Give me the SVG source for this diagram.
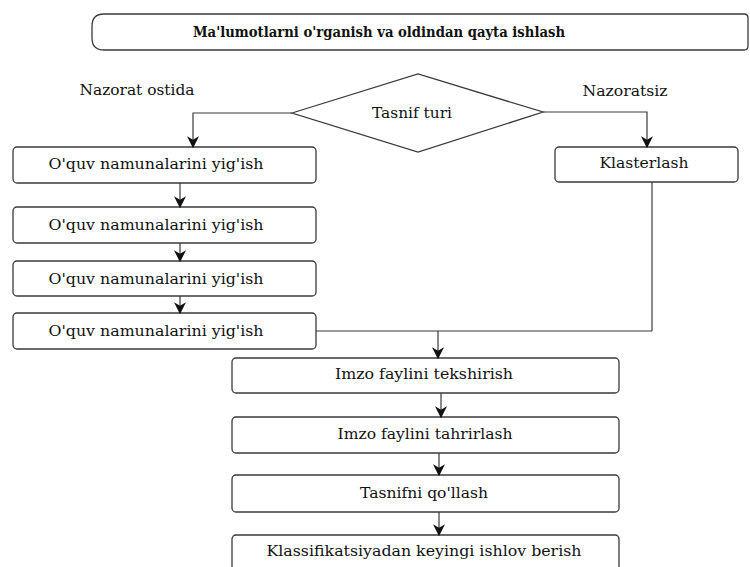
<svg xmlns="http://www.w3.org/2000/svg" width="750" height="567" viewBox="0 0 750 567">
<style>
.box{fill:#fff;stroke:#3a3a3a;stroke-width:1.3}
.ln{fill:none;stroke:#3a3a3a;stroke-width:1.2}
.t{font-family:'DejaVu Serif','Liberation Serif',serif;font-size:15px;fill:#111;text-anchor:middle}
.tb{font-weight:bold}
</style>
<defs>
<marker id="ah" viewBox="0 0 10 10" refX="9" refY="5" markerWidth="12" markerHeight="12" markerUnits="userSpaceOnUse" orient="auto">
<path d="M0,0 L10,5 L0,10 L3,5 z" fill="#111"/>
</marker>
</defs>
<rect width="750" height="567" fill="#fff"/>
<g id="title">
<path class="box" d="M104,14 H744 Q748,14 748,18 V46 Q748,50 744,50 H104 Q92,50 92,38 V26 Q92,14 104,14 Z"/>
<text class="t tb" x="379" y="37" textLength="372" lengthAdjust="spacingAndGlyphs">Ma'lumotlarni o'rganish va oldindan qayta ishlash</text>
</g>
<g id="decision">
<polygon class="box" points="292,113 418,74 543,112 418,152"/>
<text class="t" x="412" y="118" textLength="80" lengthAdjust="spacingAndGlyphs">Tasnif turi</text>
</g>
<g id="lbl-left"><text class="t" x="137" y="95" textLength="115" lengthAdjust="spacingAndGlyphs">Nazorat ostida</text></g>
<g id="lbl-right"><text class="t" x="625" y="96" textLength="85" lengthAdjust="spacingAndGlyphs">Nazoratsiz</text></g>
<g id="s1"><rect class="box" x="13" y="147" width="303" height="36" rx="4"/><text class="t" x="156" y="169" textLength="215" lengthAdjust="spacingAndGlyphs">O'quv namunalarini yig'ish</text></g>
<g id="s2"><rect class="box" x="13" y="207" width="303" height="36" rx="4"/><text class="t" x="156" y="230" textLength="215" lengthAdjust="spacingAndGlyphs">O'quv namunalarini yig'ish</text></g>
<g id="s3"><rect class="box" x="13" y="261" width="303" height="35" rx="4"/><text class="t" x="156" y="284" textLength="215" lengthAdjust="spacingAndGlyphs">O'quv namunalarini yig'ish</text></g>
<g id="s4"><rect class="box" x="13" y="313" width="303" height="36" rx="4"/><text class="t" x="156" y="336" textLength="215" lengthAdjust="spacingAndGlyphs">O'quv namunalarini yig'ish</text></g>
<g id="klaster"><rect class="box" x="555" y="147" width="183" height="35" rx="4"/><text class="t" x="644" y="168" textLength="89" lengthAdjust="spacingAndGlyphs">Klasterlash</text></g>
<g id="p1"><rect class="box" x="232" y="358" width="387" height="35" rx="4"/><text class="t" x="424" y="379" textLength="178" lengthAdjust="spacingAndGlyphs">Imzo faylini tekshirish</text></g>
<g id="p2"><rect class="box" x="232" y="417" width="387" height="36" rx="4"/><text class="t" x="425" y="439" textLength="175" lengthAdjust="spacingAndGlyphs">Imzo faylini tahrirlash</text></g>
<g id="p3"><rect class="box" x="232" y="475" width="387" height="37" rx="4"/><text class="t" x="424" y="498" textLength="128" lengthAdjust="spacingAndGlyphs">Tasnifni qo'llash</text></g>
<g id="p4"><rect class="box" x="232" y="535" width="387" height="40" rx="4"/><text class="t" x="424" y="556" textLength="315" lengthAdjust="spacingAndGlyphs">Klassifikatsiyadan keyingi ishlov berish</text></g>
<g id="connectors">
<path class="ln" d="M292,113 H193 V147" marker-end="url(#ah)"/>
<path class="ln" d="M543,112 H647 V147" marker-end="url(#ah)"/>
<path class="ln" d="M180,183 V207" marker-end="url(#ah)"/>
<path class="ln" d="M180,243 V261" marker-end="url(#ah)"/>
<path class="ln" d="M180,296 V313" marker-end="url(#ah)"/>
<path class="ln" d="M316,331 H652"/>
<path class="ln" d="M652,182 V331"/>
<path class="ln" d="M438,331 V358" marker-end="url(#ah)"/>
<path class="ln" d="M441,393 V417" marker-end="url(#ah)"/>
<path class="ln" d="M439,453 V475" marker-end="url(#ah)"/>
<path class="ln" d="M439,512 V535" marker-end="url(#ah)"/>
</g>
</svg>
